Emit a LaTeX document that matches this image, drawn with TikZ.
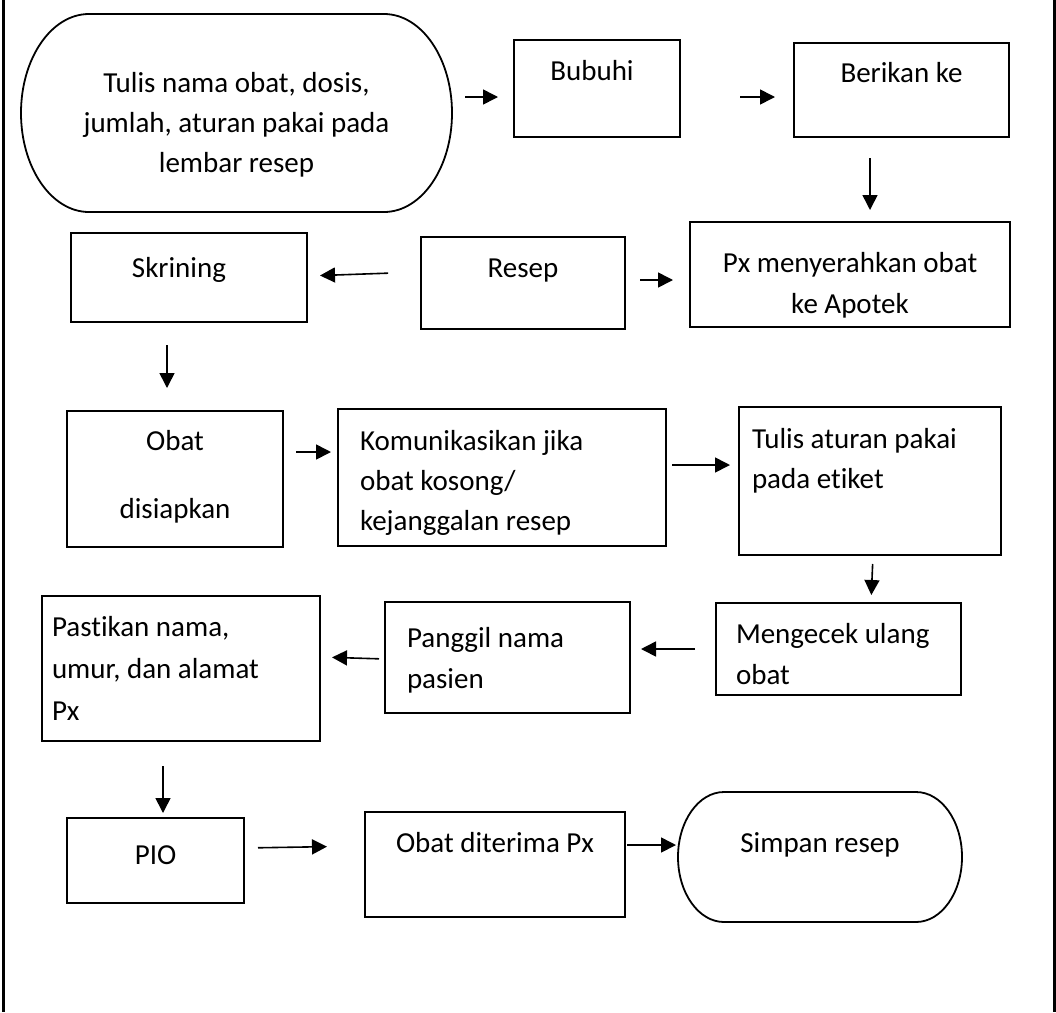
\documentclass[tikz,border=0pt]{standalone}
\usepackage{fontspec}
\setmainfont{Carlito}[Ligatures=CommonOff]
\usetikzlibrary{arrows.meta}

\tikzset{
  flow/.style={draw, line width=1.8pt, inner sep=0pt, outer sep=0pt},
  term/.style={inner sep=0pt, outer sep=0pt},
  arr/.style={line width=1.6pt, -{Triangle[length=15pt,width=15pt]}},
  termline/.style={line width=1.8pt},
}

% #1 style, #2 name, #3 left, #4 top, #5 right, #6 bottom,
% #7 paragraph setup, #8 first baseline below the top, #9 text
\newcommand\flowbox[9]{%
  \node[#1] (#2) at ({(#3+#5)/2},{(#4+#6)/2})
    {\parbox[c][\dimexpr#6pt-#4pt\relax][t]{\dimexpr#5pt-#3pt\relax}%
      {#7\rule{0pt}{#8pt}#9}};}

% stadium outline round a node: #1 name, #2 end radius, #3 half height
\newcommand\stadium[3]{%
  \draw[termline] ([xshift=#2pt]#1.north west) -- ([xshift=-#2pt]#1.north east)
    arc[start angle=90, end angle=-90, x radius=#2pt, y radius=#3pt]
    -- ([xshift=#2pt]#1.south west)
    arc[start angle=270, end angle=90, x radius=#2pt, y radius=#3pt] -- cycle;}

\newcommand\ctr[1]{\centering\baselineskip=#1pt\relax}
\newcommand\lft[2]{\raggedright\leftskip=#1pt\relax\baselineskip=#2pt\relax}

\begin{document}
\begin{tikzpicture}[x=1pt, y=-1pt, font=\fontsize{29pt}{41pt}\selectfont]
\useasboundingbox (0,0) rectangle (1056,1012);

% page frame
\draw[line width=3pt] (3,0) -- (3,1012);
\draw[line width=3pt] (1054,0) -- (1054,1012);

% row 1
\flowbox{term}{start}{21}{14}{452}{212}{\ctr{40}}{78}{Tulis nama obat, dosis,\\jumlah, aturan pakai pada\\lembar resep}
\stadium{start}{68}{99}
\flowbox{flow}{bubuhi}{514}{40}{680}{137}{\ctr{41}\rightskip=0pt plus 1fil minus 0pt\advance\rightskip 10pt}{40}{Bubuhi}
\flowbox{flow}{berikan}{794}{43}{1009}{137}{\ctr{41}}{39}{Berikan ke}

% row 2
\flowbox{flow}{px}{690}{222}{1010}{327}{\ctr{41}}{50}{Px menyerahkan obat\\ke Apotek}
\flowbox{flow}{resep}{421}{237}{625}{329}{\ctr{41}}{40}{Resep}
\flowbox{flow}{skrining}{71}{233}{307}{322}{\ctr{41}\rightskip=20pt plus 1fil}{44}{Skrining}

% row 3
\flowbox{flow}{obat}{67}{411}{283}{547}{\ctr{41}}{39}{Obat\\[27pt]disiapkan}
\flowbox{flow}{kom}{338}{409}{666}{546}{\lft{22}{40}}{41}{Komunikasikan jika\\obat kosong/\\kejanggalan resep}
\flowbox{flow}{tulis}{739}{407}{1001}{555}{\lft{13}{40}}{41}{Tulis aturan pakai\\pada etiket}

% row 4
\flowbox{flow}{cek}{716}{603}{961}{695}{\lft{20}{41}}{40}{Mengecek ulang\\obat}
\flowbox{flow}{panggil}{385}{602}{630}{713}{\lft{22}{41}}{45}{Panggil nama\\pasien}
\flowbox{flow}{pastikan}{42}{596}{320}{741}{\lft{10}{42}}{40}{Pastikan nama,\\umur, dan alamat\\Px}

% row 5
\flowbox{flow}{pio}{67}{818}{244}{903}{\ctr{41}}{46}{PIO}
\flowbox{flow}{terima}{365}{812}{625}{917}{\ctr{41}}{40}{Obat diterima Px}
\flowbox{term}{simpan}{678}{792}{962}{922}{\ctr{41}}{60}{Simpan resep}
\stadium{simpan}{46}{65}

% connectors
\draw[arr, shorten <=13pt, shorten >=16pt] (start.east |- 0,97) -- (bubuhi.west |- 0,97);
\draw[arr, shorten <=60pt, shorten >=19pt] (bubuhi.east |- 0,97) -- (berikan.west |- 0,97);
\draw[arr, shorten <=21pt, shorten >=12pt] (berikan.south -| 870,0) -- (px.north -| 870,0);
\draw[arr, shorten <=15pt, shorten >=17pt] (resep.east |- 0,280) -- (px.west |- 0,280);
\draw[arr, shorten <=33pt, shorten >=13pt] (resep.west |- 0,272) -- (skrining.east |- 0,276);
\draw[arr, shorten <=23pt, shorten >=23pt] (skrining.south -| 167,0) -- (obat.north -| 167,0);
\draw[arr, shorten <=13pt, shorten >=7pt] (obat.east |- 0,452) -- (kom.west |- 0,452);
\draw[arr, shorten <=6pt, shorten >=9pt] (kom.east |- 0,465) -- (tulis.west |- 0,465);
\draw[arr, shorten <=9pt, shorten >=8pt] (tulis.south -| 873,0) -- (cek.north -| 871,0);
\draw[arr, shorten <=21pt, shorten >=11pt] (cek.west |- 0,649) -- (panggil.east |- 0,649);
\draw[arr, shorten <=6pt, shorten >=12pt] (panggil.west |- 0,659) -- (pastikan.east |- 0,657);
\draw[arr, shorten <=25pt, shorten >=5pt] (pastikan.south -| 163,0) -- (pio.north -| 163,0);
\draw[arr, shorten <=14pt, shorten >=38pt] (pio.east |- 0,848) -- (terima.west |- 0,846);
\draw[arr, shorten <=2pt, shorten >=2pt] (terima.east |- 0,845) -- (simpan.west |- 0,845);
\end{tikzpicture}
\end{document}
